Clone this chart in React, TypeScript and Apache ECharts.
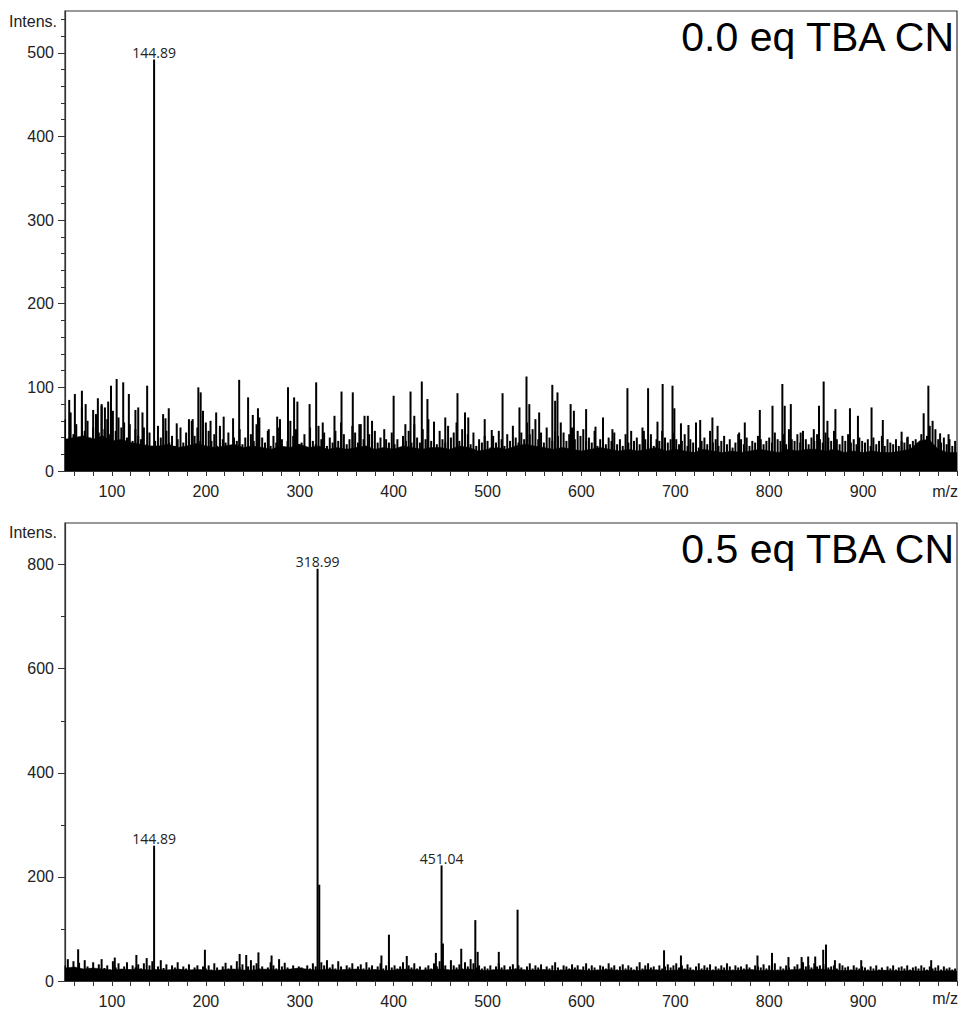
import React, { useEffect, useRef } from "react";
import * as echarts from "echarts";

// m/z grid of the noise traces
const MZ_START = 50;
const MZ_STEP = 3;
const FLOOR_STEP = 10;

// top spectrum (0.0 eq TBA CN) noise intensities, every 3 m/z from 50
const topNoise = [
  62,38,70,44,56,36,76,48,60,40,52,68,46,78,50,62,44,72,48,64,52,58,40,56,36,50,42,
  38,52,32,46,28,36,54,40,30,48,34,42,30,38,52,34,46,38,60,42,52,36,48,58,
  48,36,44,30,54,38,34,46,28,40,36,50,32,40,30,44,36,56,64,40,34,48,30,42,34,52,38,28,36,60,42,50,32,
  34,44,28,52,36,32,54,38,46,30,40,34,48,36,58,44,32,38,54,46,34,56,38,30,44,36,48,34,40,28,38,34,46,
  32,38,28,42,36,48,34,56,40,34,50,38,62,36,44,32,48,38,34,54,40,46,58,36,50,38,44,32,46,30,38,34,42,
  36,28,42,34,48,38,30,44,36,54,40,34,46,38,58,44,50,62,38,46,34,52,40,36,48,42,58,46,36,44,52,38,48,
  42,50,36,40,34,48,30,38,44,32,40,36,46,32,38,30,44,34,48,36,40,32,52,38,34,44,30,38,36,48,40,34,38,46,
  38,32,36,44,30,38,34,42,28,36,40,32,48,34,38,30,36,42,32,38,28,34,44,38,32,40,30,36,34,42,38,32,36,
  40,34,46,38,36,44,32,50,38,36,44,34,48,38,32,40,36,44,38,34,46,40,36,48,38,32,42,36,44,34,38,32,40,36,
  34,38,30,40,32,36,42,30,38,34,32,38,30,36,34,40,32,36,38,30,44,36,42,54,60,50,38,34,40,32,38,30,36,
];

// top spectrum solid baseline level, every 10 m/z from 50
const topFloor = [
  38,40,42,38,42,36,38,34,32,30,
  30,32,28,30,33,30,28,30,32,28,
  30,28,26,30,28,32,28,30,26,28,
  26,28,30,26,28,26,30,28,26,28,
  28,26,30,28,24,26,28,26,30,32,
  30,28,26,28,26,24,26,28,26,24,
  26,24,26,28,24,26,24,22,26,24,
  22,24,22,24,26,24,22,26,24,26,
  26,24,26,22,24,22,24,22,22,24,
  26,36,38,26,22,22,
];

// top spectrum isolated spikes [m/z, intensity]
const topPeaks = [
  [54.5,85],[60.5,92],[68,96],[72,80],[80,73],[85,87],[89,80],[92.5,76],[96,83],[99,102],
  [105,110],[112,106],[118,92],[125,73],[128,76],[132.5,70],[137.5,102],[154.5,68],[157,63],[160.5,75],
  [169,57],[182,62],[186,62],[192,100],[194.5,94],[197,72],[205,60],[211,70],[215,50],[219,65],
  [229,63],[235.5,109],[245,88],[250,67],[255.5,75],[267,50],[276,65],[279,62],[287.5,100],[294,88],
  [297.5,83],[310.5,80],[317.5,106],[324.5,58],[337,66],[344.5,95],[356.5,94],[363.5,56],[369,66],[372.5,66],
  [377,60],[390,50],[400,90],[412.5,56],[418,95],[422,66],[430,107],[436,86],[443,59],[455,64],
  [468,93],[476,70],[479.5,64],[497,62],[504.5,49],[516,93],[534,76],[541.5,113],[544.5,80],[555,70],
  [569,103],[572,84],[574.5,94],[588.5,80],[592,72],[605,74],[615,53],[623,64],[633,50],[649,99],
  [666.5,48],[671,99],[681,59],[686.5,104],[697,102],[699,75],[706,57],[714,55],[722,58],[726.5,61],
  [739.5,64],[745,54],[768,46],[774,58],[790,73],[803.5,78],[814,104],[816.5,78],[823,80],[833.5,46],
  [847.5,50],[853,78],[858,107],[862,60],[870.5,74],[886,75],[894.5,66],[909,76],[921,61],[941,47],
  [947.5,41],[964.5,69],[969.5,102],[982,45],[991,44],
];
const topLabeled = [[144.89, 492]];

// bottom spectrum (0.5 eq TBA CN) noise intensities, every 3 m/z from 50
const bottomNoise = [
  30,42,22,38,25,35,20,40,28,24,36,20,32,42,25,30,22,38,26,34,20,28,36,22,30,26,32,
  24,34,20,30,38,22,28,40,25,32,22,30,26,36,22,28,24,32,20,26,30,22,28,24,
  30,22,34,26,20,28,35,24,30,22,38,26,32,20,28,40,30,34,24,28,20,26,36,30,24,42,28,35,26,22,30,24,28,
  26,20,30,24,34,28,22,36,30,40,26,32,24,38,28,22,30,26,34,20,28,32,24,36,26,30,22,28,34,24,30,38,26,
  30,24,28,36,22,30,26,34,24,28,20,26,30,24,34,28,38,26,30,22,40,30,26,32,24,36,28,42,34,26,30,24,28,
  24,30,22,28,34,26,30,22,28,32,24,30,26,22,28,34,24,30,26,32,22,28,24,30,36,26,22,30,28,24,32,26,30,
  22,28,34,24,30,26,22,30,28,24,34,26,30,22,28,32,24,30,26,22,28,36,24,30,34,26,28,22,30,24,28,32,26,30,
  34,26,30,24,32,26,22,28,34,24,30,26,32,22,28,24,30,26,34,28,22,30,26,28,24,32,26,22,30,28,26,32,24,
  30,26,34,22,28,24,30,26,22,28,32,24,36,28,30,26,34,28,30,24,32,26,28,30,24,34,30,26,28,22,30,26,24,28,
  26,22,28,24,30,22,26,20,28,24,30,22,26,28,24,30,22,26,28,24,30,26,22,28,24,26,30,22,28,24,26,22,24,
];

// bottom spectrum solid baseline level, every 10 m/z from 50
const bottomFloor = [
  25,27,23,25,23,21,23,22,23,21,
  22,21,23,21,22,21,20,22,23,21,
  21,23,22,21,23,25,22,21,23,21,
  22,23,21,22,20,21,23,22,21,22,
  23,21,22,23,21,20,22,21,23,21,
  21,22,20,21,22,21,20,21,22,20,
  21,20,22,21,20,21,22,20,21,20,
  21,20,21,22,20,21,20,21,22,21,
  23,22,21,20,21,20,19,21,20,19,
  20,19,20,19,20,19,
];

const bottomPeaks = [
  [64,61],[103,45],[126,50],[137,44],[199,60],[236,52],[243,50],[256,55],[270,49],[320.8,185],
  [387,49],[395,89],[414,48],[445,54],[452.5,72],[472,62],[487,117],[489.5,56],[512,56],[532,137],
  [688,59],[706,49],[787.5,49],[803,54],[820.5,46],[834.5,46],[841.5,47],[849,47],[857.5,60],[860.5,70],
  [870,40],[898,40],[972.5,40],
];
const bottomLabeled = [[144.89, 260], [318.99, 792], [451.04, 222]];

// axis ticks / labels
const xTickValues = [60,80,100,120,140,160,180,200,220,240,260,280,300,320,340,360,380,400,420,440,460,480,500,520,540,560,580,600,620,640,660,680,700,720,740,760,780,800,820,840,860,880,900,920,940,960,980,1000];
const xLabelValues = [100,200,300,400,500,600,700,800,900];
const topYLabels = [0,100,200,300,400,500];
const topYMinor = [20,40,60,80,120,140,160,180,220,240,260,280,320,340,360,380,420,440,460,480,520,540];
const bottomYLabels = [0,200,400,600,800];
const bottomYMinor = [100,300,500,700];

const titles = ["0.0 eq TBA CN", "0.5 eq TBA CN"];

const FONT = '"Liberation Sans", Arial, sans-serif';
const AX = "#333";

function buildXAxis(gridIndex: number) {
  return {
    gridIndex,
    type: "value",
    min: 50,
    max: 1000,
    axisLine: { show: true, lineStyle: { color: AX, width: 1.2 } },
    axisTick: { show: true, customValues: xTickValues, length: 5, lineStyle: { color: AX } },
    axisLabel: { customValues: xLabelValues, fontSize: 16, color: "#222", fontFamily: FONT, margin: 12 },
    splitLine: { show: false },
  };
}

function buildYAxes(gridIndex: number, max: number, labels: number[], minor: number[]) {
  return [
    {
      gridIndex,
      type: "value",
      position: "left",
      min: 0,
      max,
      axisLine: { show: true, lineStyle: { color: AX, width: 1.2 } },
      axisTick: { show: true, customValues: labels, length: 7, lineStyle: { color: AX } },
      axisLabel: { customValues: labels, fontSize: 16, color: "#222", fontFamily: FONT, margin: 11 },
      splitLine: { show: false },
    },
    {
      gridIndex,
      type: "value",
      position: "left",
      offset: 0,
      min: 0,
      max,
      axisLine: { show: false },
      axisTick: { show: true, customValues: minor, length: 4, lineStyle: { color: AX } },
      axisLabel: { show: false },
      splitLine: { show: false },
    },
  ];
}

function floorSeries(values: number[], axisIndex: number) {
  return {
    type: "line",
    xAxisIndex: axisIndex,
    yAxisIndex: axisIndex * 2,
    data: values.map((v, i) => [MZ_START + i * FLOOR_STEP, v]),
    symbol: "none",
    silent: true,
    lineStyle: { color: "#000", width: 0.5 },
    areaStyle: { color: "#000", opacity: 1 },
    z: 2,
  };
}

function spikeSeries(noise: number[], peaks: number[][], labeled: number[][], axisIndex: number) {
  const data: any[] = noise.map((v, i) => [MZ_START + i * MZ_STEP, v]);
  peaks.forEach((p) => data.push([p[0], p[1]]));
  labeled.forEach((p) => {
    data.push({
      value: [p[0], p[1]],
      label: {
        show: true,
        position: "top",
        distance: 0,
        formatter: p[0].toFixed(2),
        fontSize: 14,
        fontFamily: '"Open Sans", "Noto Sans", sans-serif',
        color: "#222",
      },
    });
  });
  return {
    type: "bar",
    xAxisIndex: axisIndex,
    yAxisIndex: axisIndex * 2,
    data,
    barWidth: 2,
    itemStyle: { color: "#000" },
    silent: true,
    z: 3,
  };
}

export default function App() {
  const ref = useRef<HTMLDivElement>(null);
  useEffect(() => {
    if (!ref.current) return;
    const chart = echarts.init(ref.current, null, { renderer: "svg" });
    const option: any = {
      animation: false,
      backgroundColor: "#fff",
      grid: [
        { left: 65, right: 5, top: 11, height: 460, show: true, borderColor: AX, borderWidth: 1.2, backgroundColor: "transparent" },
        { left: 65, right: 5, top: 523, height: 458, show: true, borderColor: AX, borderWidth: 1.2, backgroundColor: "transparent" },
      ],
      xAxis: [buildXAxis(0), buildXAxis(1)],
      yAxis: [
        ...buildYAxes(0, 550, topYLabels, topYMinor),
        ...buildYAxes(1, 880, bottomYLabels, bottomYMinor),
      ],
      series: [
        floorSeries(topFloor, 0),
        spikeSeries(topNoise, topPeaks, topLabeled, 0),
        floorSeries(bottomFloor, 1),
        spikeSeries(bottomNoise, bottomPeaks, bottomLabeled, 1),
      ],
      graphic: [
        { type: "text", x: 954, y: 37, z: 10, style: { text: titles[0], font: `41px ${FONT}`, fill: "#000", textAlign: "right", textVerticalAlign: "middle" } },
        { type: "text", x: 954, y: 549, z: 10, style: { text: titles[1], font: `41px ${FONT}`, fill: "#000", textAlign: "right", textVerticalAlign: "middle" } },
        { type: "text", x: 57, y: 21, z: 10, style: { text: "Intens.", font: `16px ${FONT}`, fill: "#222", textAlign: "right", textVerticalAlign: "middle" } },
        { type: "text", x: 57, y: 532, z: 10, style: { text: "Intens.", font: `16px ${FONT}`, fill: "#222", textAlign: "right", textVerticalAlign: "middle" } },
        { type: "text", x: 958, y: 491, z: 10, style: { text: "m/z", font: `16px ${FONT}`, fill: "#222", textAlign: "right", textVerticalAlign: "middle" } },
        { type: "text", x: 958, y: 998, z: 10, style: { text: "m/z", font: `16px ${FONT}`, fill: "#222", textAlign: "right", textVerticalAlign: "middle" } },
      ],
    };
    chart.setOption(option);
    return () => chart.dispose();
  }, []);
  return (
    <div
      ref={ref}
      style={{ position: "absolute", left: 0, top: 0, width: 962, height: 1011, background: "#fff" }}
    />
  );
}
